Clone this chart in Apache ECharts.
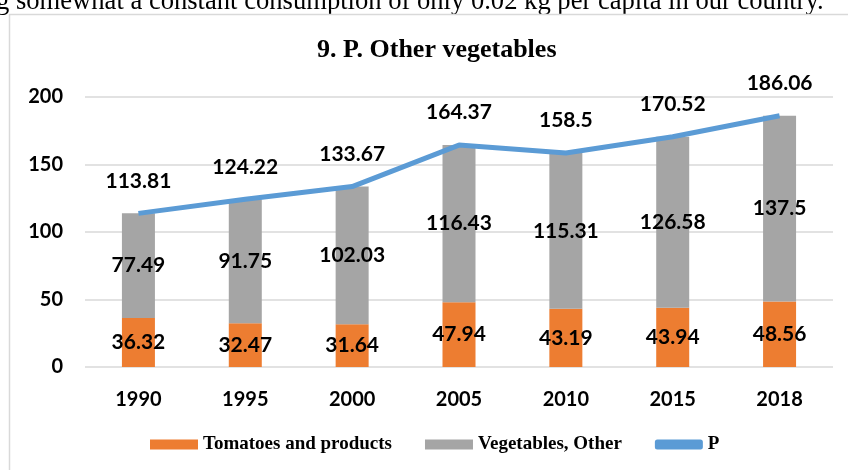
<!DOCTYPE html>
<html>
<head>
<meta charset="utf-8">
<script src="https://cdn.jsdelivr.net/npm/echarts@6/dist/echarts.min.js"></script>
<style>
  html, body { margin: 0; padding: 0; background: #fff; }
  #main { width: 848px; height: 470px; }
</style>
</head>
<body>
<div id="main"></div>
<script>
// data
var years = ["1990", "1995", "2000", "2005", "2010", "2015", "2018"];
var tomatoes = [36.32, 32.47, 31.64, 47.94, 43.19, 43.94, 48.56];
var vegOther = [77.49, 91.75, 102.03, 116.43, 115.31, 126.58, 137.5];
var totalP = [113.81, 124.22, 133.67, 164.37, 158.5, 170.52, 186.06];

var myChart = echarts.init(document.getElementById("main"));

var labelFont = {
  show: true,
  color: "#000",
  fontFamily: "Lato",
  fontWeight: "bold",
  fontSize: 21
};

var option = {
  animation: false,
  backgroundColor: "#fff",
  graphic: [
    {
      type: "text",
      left: -4,
      top: -11,
      style: {
        text: "g somewhat a constant consumption of only 0.02 kg per capita in our country.",
        font: "26.6px 'Liberation Serif'",
        fill: "#000"
      }
    },
    {
      type: "rect",
      shape: { x: 9.5, y: 14.5, width: 900, height: 500 },
      style: { fill: "none", stroke: "#d9d9d9", lineWidth: 1.5 }
    }
  ],
  title: {
    text: "9. P. Other vegetables",
    left: 312,
    top: 32,
    textStyle: {
      fontFamily: "Liberation Serif",
      fontWeight: "bold",
      fontSize: 26,
      color: "#000"
    }
  },
  legend: {
    bottom: 11,
    left: 145,
    itemWidth: 48,
    itemHeight: 10,
    itemGap: 33,
    textStyle: {
      fontFamily: "Liberation Serif",
      fontWeight: "bold",
      fontSize: 19,
      color: "#000"
    },
    data: [
      { name: "Tomatoes and products", icon: "rect" },
      { name: "Vegetables, Other", icon: "rect" },
      { name: "P", icon: "roundRect", itemStyle: { color: "#5b9bd5" } }
    ]
  },
  grid: {
    left: 85,
    right: 15,
    top: 97,
    bottom: 103
  },
  xAxis: {
    type: "category",
    data: years,
    axisTick: { show: false },
    axisLine: { show: false },
    axisLabel: {
      color: "#000",
      fontFamily: "Lato",
      fontWeight: "bold",
      fontSize: 20,
      margin: 23
    }
  },
  yAxis: {
    type: "value",
    min: 0,
    max: 200,
    interval: 50,
    axisLine: { show: false },
    axisTick: { show: false },
    splitLine: { lineStyle: { color: "#d9d9d9", width: 1.5 } },
    axisLabel: {
      color: "#000",
      fontFamily: "Lato",
      fontWeight: "bold",
      fontSize: 20,
      margin: 22
    }
  },
  series: [
    {
      name: "Tomatoes and products",
      type: "bar",
      stack: "veg",
      barWidth: 33,
      itemStyle: { color: "#ed7d31" },
      label: Object.assign({ position: "inside" }, labelFont),
      data: tomatoes
    },
    {
      name: "Vegetables, Other",
      type: "bar",
      stack: "veg",
      barWidth: 33,
      itemStyle: { color: "#a5a5a5" },
      label: Object.assign({ position: "inside" }, labelFont),
      data: vegOther
    },
    {
      name: "P",
      type: "line",
      symbol: "circle",
      symbolSize: 0,
      lineStyle: { color: "#5b9bd5", width: 5 },
      itemStyle: { color: "#5b9bd5" },
      label: Object.assign({ position: "top", distance: 22 }, labelFont),
      data: totalP
    }
  ]
};

myChart.setOption(option);
</script>
</body>
</html>
